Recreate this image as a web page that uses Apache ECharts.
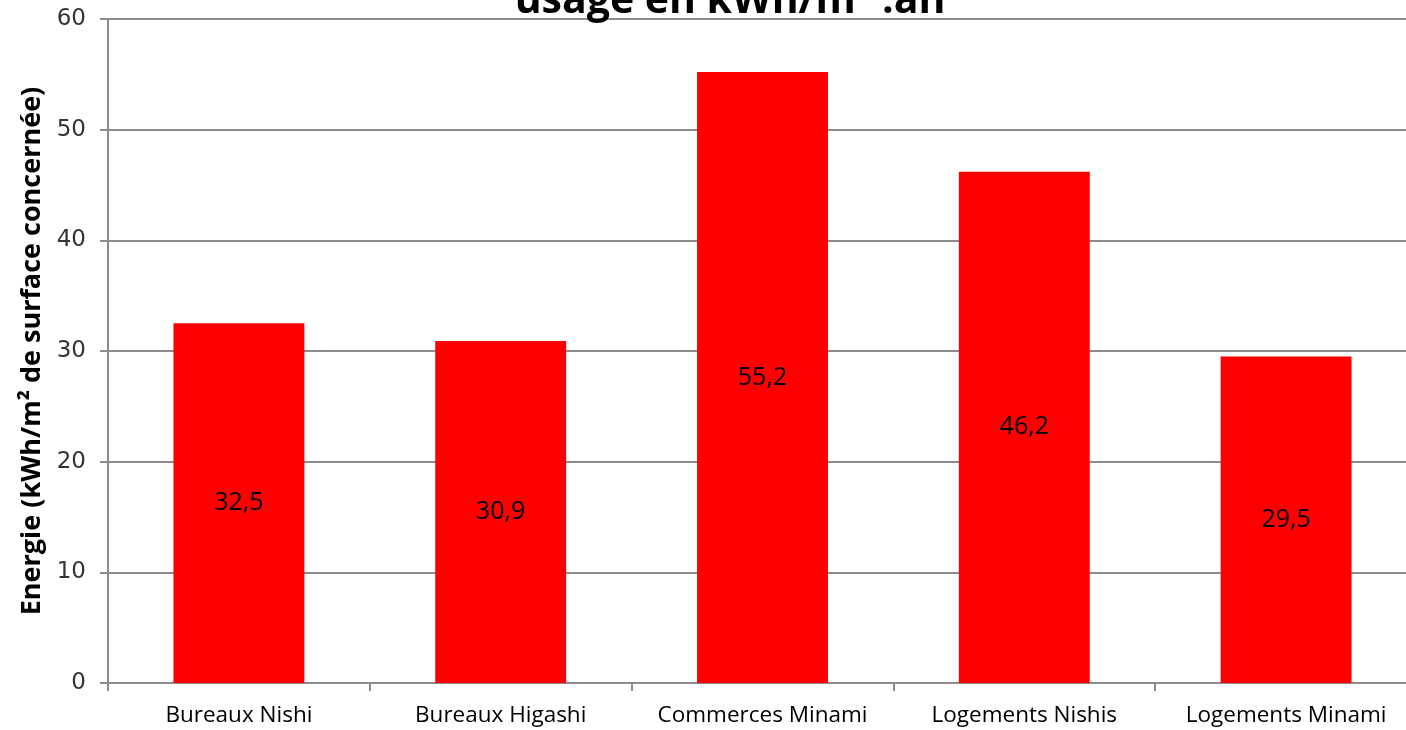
<!DOCTYPE html>
<html>
<head>
<meta charset="utf-8">
<script src="https://cdn.jsdelivr.net/npm/echarts@6/dist/echarts.min.js"></script>
<style>
html, body { margin: 0; padding: 0; background: #fff; }
#main { width: 1406px; height: 730px; }
</style>
</head>
<body>
<div id="main"></div>
<script>
var categories = ['Bureaux Nishi', 'Bureaux Higashi', 'Commerces Minami', 'Logements Nishis', 'Logements Minami'];
var values = [32.5, 30.9, 55.2, 46.2, 29.5];
var yTicks = { min: 0, max: 60, interval: 10 };

var myChart = echarts.init(document.getElementById('main'));
var option = {
	animation: false,
	title: {
		text: 'usage en kWh/m² .an',
		left: 725,
		textAlign: 'center',
		top: -24,
		textStyle: {
			fontFamily: 'Open Sans',
			fontWeight: 'bold',
			fontSize: 41,
			color: '#000'
		}
	},
	grid: {
		left: 108,
		width: 1309,
		top: 19,
		bottom: 47,
		outerBoundsMode: 'none'
	},
	xAxis: {
		type: 'category',
		data: categories,
		axisLine: { lineStyle: { color: '#8c8c8c', width: 2 } },
		axisTick: { show: true, interval: 0, length: 8, lineStyle: { color: '#8c8c8c', width: 2 } },
		axisLabel: {
			interval: 0,
			hideOverlap: false,
			color: '#000',
			fontFamily: 'Open Sans',
			fontSize: 22.5,
			margin: 21
		}
	},
	yAxis: {
		type: 'value',
		min: yTicks.min,
		max: yTicks.max,
		interval: yTicks.interval,
		name: 'Energie (kWh/m² de surface concernée)',
		nameLocation: 'middle',
		nameGap: 62,
		nameTextStyle: {
			fontFamily: 'Open Sans',
			fontWeight: 'bold',
			fontSize: 27,
			color: '#000'
		},
		axisLine: { show: true, lineStyle: { color: '#8c8c8c', width: 2 } },
		axisTick: { show: true, length: 8, lineStyle: { color: '#8c8c8c', width: 2 } },
		splitLine: { lineStyle: { color: '#8c8c8c', width: 2 } },
		axisLabel: {
			color: '#333',
			fontFamily: 'DejaVu Sans',
			fontSize: 23,
			margin: 22
		}
	},
	series: [{
		type: 'bar',
		data: values,
		barWidth: '50%',
		itemStyle: { color: '#ff0000' },
		label: {
			show: true,
			position: 'inside',
			color: '#000',
			fontFamily: 'Open Sans',
			fontSize: 25,
			formatter: function(p) {
				return String(p.value).replace('.', ',');
			}
		}
	}]
};
myChart.setOption(option);
</script>
</body>
</html>
